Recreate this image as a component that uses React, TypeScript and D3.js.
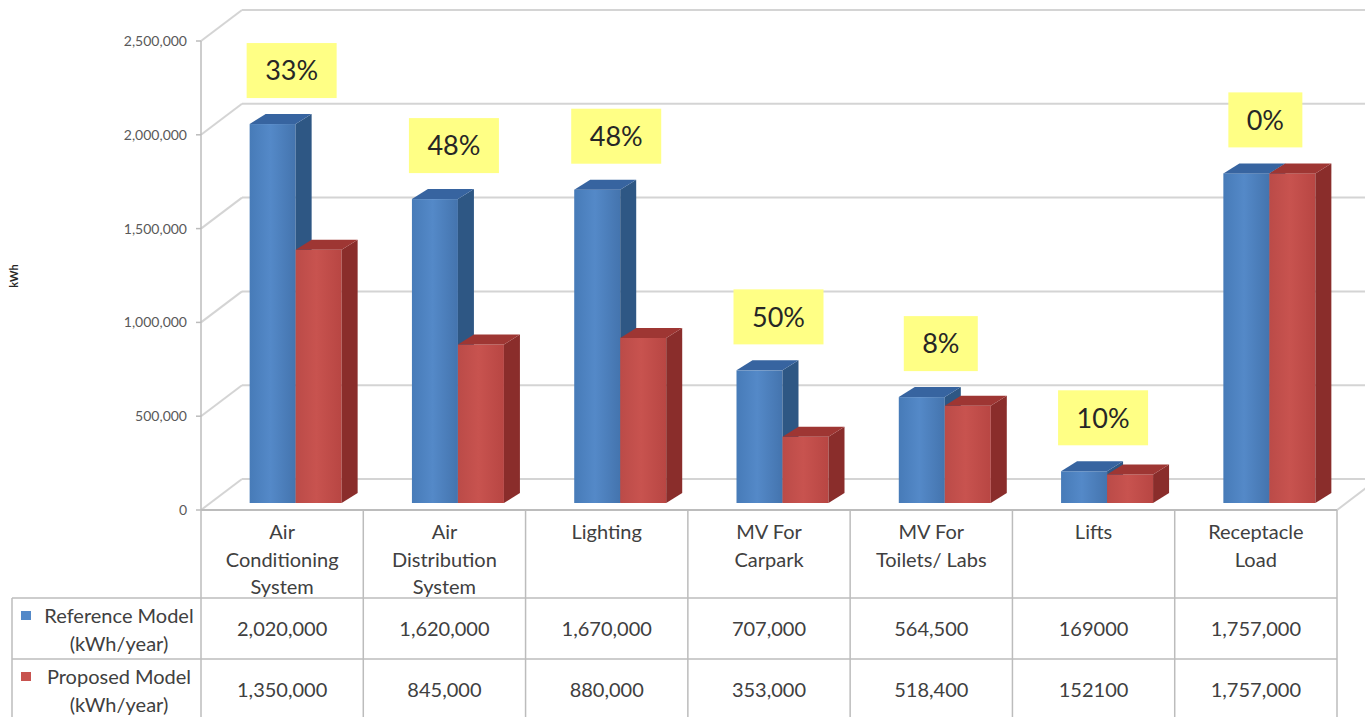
import React from 'react';
import * as d3 from 'd3';

// chart values
const categories = [
  ['Air', 'Conditioning', 'System'],
  ['Air', 'Distribution', 'System'],
  ['Lighting'],
  ['MV For', 'Carpark'],
  ['MV For', 'Toilets/ Labs'],
  ['Lifts'],
  ['Receptacle', 'Load'],
];
const referenceValues = [2020000, 1620000, 1670000, 707000, 564500, 169000, 1757000];
const proposedValues = [1350000, 845000, 880000, 353000, 518400, 152100, 1757000];
const referenceText = ['2,020,000', '1,620,000', '1,670,000', '707,000', '564,500', '169000', '1,757,000'];
const proposedText = ['1,350,000', '845,000', '880,000', '353,000', '518,400', '152100', '1,757,000'];
const savings = ['33%', '48%', '48%', '50%', '8%', '10%', '0%'];
const seriesNames = [['Reference Model', '(kWh/year)'], ['Proposed Model', '(kWh/year)']];
const yTicks = [0, 500000, 1000000, 1500000, 2000000, 2500000];

const W = 1365;
const H = 717;
const FONT = 'Lato, "Open Sans", sans-serif';
const TEXT = '#404040';
const GRID = '#d4d4d4';
const BORDER = '#bcbcbc';

// 3d offsets
const wall = { dx: 41, dy: -31 };
const plane = { dx: 13.5, dy: -7 };
const depth = { dx: 16, dy: -10 };
const barW = 46;

const colors = [
  { front: ['#477bb8', '#5489c8', '#4474ae'], side: '#2e5784', top: '#3764a0' },
  { front: ['#bb4b48', '#c8534f', '#b84643'], side: '#8a2d2b', top: '#9e3633' },
];

const App = () => {
  const x = d3.scaleBand<number>().domain(d3.range(categories.length)).range([201, 1337]);
  const y = d3.scaleLinear().domain([0, 2500000]).range([510, 41]);
  const base = y(0) + plane.dy;
  const fmt = d3.format(',');

  const bar = (i: number, s: number, v: number) => {
    const c = x(i)! + x.bandwidth() / 2 + plane.dx;
    const xl = s === 0 ? c - barW : c;
    const xr = xl + barW;
    const yt = y(v) + plane.dy;
    const col = colors[s];
    const pts = (p: number[][]) => p.map(q => q.join(',')).join(' ');
    return (
      <g key={`b${i}-${s}`}>
        <rect x={xl} y={yt} width={barW} height={base - yt} fill={`url(#grad${s})`} />
        <polygon
          points={pts([[xr, yt], [xr + depth.dx, yt + depth.dy], [xr + depth.dx, base + depth.dy], [xr, base]])}
          fill={col.side}
        />
        <polygon
          points={pts([[xl, yt], [xl + depth.dx, yt + depth.dy], [xr + depth.dx, yt + depth.dy], [xr, yt]])}
          fill={col.top}
        />
      </g>
    );
  };

  const colX = (i: number) => x(i)! + x.bandwidth() / 2;

  return (
    <svg width={W} height={H} style={{ position: 'absolute', left: 0, top: 0, background: '#fff' }}>
      <defs>
        {colors.map((c, s) => (
          <linearGradient key={s} id={`grad${s}`} x1="0" x2="1" y1="0" y2="0">
            <stop offset="0" stopColor={c.front[0]} />
            <stop offset="0.45" stopColor={c.front[1]} />
            <stop offset="1" stopColor={c.front[2]} />
          </linearGradient>
        ))}
      </defs>

      {/* gridlines: side wall diagonals + back wall */}
      {yTicks.map(t => (
        <g key={`g${t}`}>
          <line x1={201} y1={y(t)} x2={201 + wall.dx} y2={y(t) + wall.dy} stroke={GRID} strokeWidth={2} />
          <line x1={201 + wall.dx} y1={y(t) + wall.dy} x2={W} y2={y(t) + wall.dy} stroke={GRID} strokeWidth={2} />
        </g>
      ))}
      {/* floor right edge */}
      <line x1={1337} y1={510} x2={1337 + wall.dx} y2={510 + wall.dy} stroke={GRID} strokeWidth={2} />

      {/* y axis */}
      <line x1={201} y1={y(2500000)} x2={201} y2={510} stroke={BORDER} strokeWidth={1.5} />
      {yTicks.map(t => (
        <g key={`t${t}`}>
          <line x1={196} y1={y(t)} x2={201} y2={y(t)} stroke={BORDER} strokeWidth={1.5} />
          <text x={187} y={y(t)} dy="0.35em" textAnchor="end" fontFamily={FONT} fontSize={14} fill="#595959">
            {fmt(t)}
          </text>
        </g>
      ))}
      <text
        transform="translate(18,276) rotate(-90)"
        textAnchor="middle"
        fontFamily={FONT}
        fontSize={11}
        fontWeight="bold"
        fill="#262626"
      >
        kWh
      </text>

      {/* bars */}
      {categories.map((_, i) => (
        <g key={`c${i}`}>
          {bar(i, 0, referenceValues[i])}
          {bar(i, 1, proposedValues[i])}
        </g>
      ))}

      {/* savings callouts */}
      {savings.map((s, i) => {
        const top = y(referenceValues[i]) + plane.dy + depth.dy;
        const w = 42 + 16 * s.length;
        const h = 55;
        const cx = colX(i) + plane.dx - 4;
        const by = top - 16 - h;
        return (
          <g key={`s${i}`}>
            <rect x={cx - w / 2} y={by} width={w} height={h} fill="#ffff85" />
            <text x={cx} y={by + h / 2} dy="0.36em" textAnchor="middle" fontFamily={FONT} fontSize={27} fill="#262626">
              {s}
            </text>
          </g>
        );
      })}

      {/* data table */}
      <line x1={201} y1={510} x2={1337} y2={510} stroke={BORDER} strokeWidth={2} />
      {d3.range(categories.length + 1).map(i => {
        const xx = i < categories.length ? x(i)! : 1337;
        return <line key={`v${i}`} x1={xx} y1={510} x2={xx} y2={H} stroke={BORDER} strokeWidth={1.5} />;
      })}
      <line x1={12} y1={598} x2={1337} y2={598} stroke={BORDER} strokeWidth={1.5} />
      <line x1={12} y1={659} x2={1337} y2={659} stroke={BORDER} strokeWidth={1.5} />
      <line x1={12} y1={598} x2={12} y2={H} stroke={BORDER} strokeWidth={1.5} />

      {categories.map((lines, i) =>
        lines.map((l, k) => (
          <text
            key={`h${i}-${k}`}
            x={colX(i)}
            y={532 + k * 27.5}
            dy="0.35em"
            textAnchor="middle"
            fontFamily={FONT}
            fontSize={20}
            fill={TEXT}
          >
            {l}
          </text>
        ))
      )}
      {[referenceText, proposedText].map((row, r) =>
        row.map((v, i) => (
          <text
            key={`r${r}-${i}`}
            x={colX(i)}
            y={629 + r * 61}
            dy="0.35em"
            textAnchor="middle"
            fontFamily={FONT}
            fontSize={20}
            fill={TEXT}
          >
            {v}
          </text>
        ))
      )}

      {/* legend keys */}
      {seriesNames.map((lines, r) => (
        <g key={`l${r}`}>
          <rect x={21} y={611 + r * 61} width={10} height={9} fill={colors[r].front[1]} />
          {lines.map((l, k) => (
            <text
              key={k}
              x={119}
              y={616 + r * 61 + k * 28}
              dy="0.35em"
              textAnchor="middle"
              fontFamily={FONT}
              fontSize={20}
              fill={TEXT}
            >
              {l}
            </text>
          ))}
        </g>
      ))}
    </svg>
  );
};

export default App;
